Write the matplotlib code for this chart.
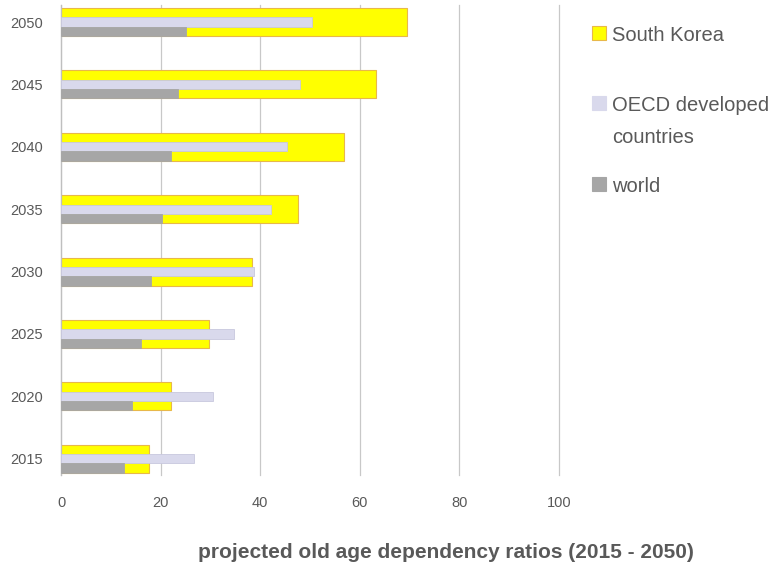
import numpy as np
import matplotlib.pyplot as plt
from matplotlib.patches import Rectangle

# data
years = ['2015', '2020', '2025', '2030', '2035', '2040', '2045', '2050']
south_korea = [17.7, 22.1, 29.7, 38.4, 47.6, 56.9, 63.2, 69.4]
oecd = [26.8, 30.5, 34.7, 38.8, 42.2, 45.3, 47.9, 50.4]
world = [12.6, 14.3, 16.1, 18.1, 20.3, 22.1, 23.4, 25.0]
series_names = ['South Korea', 'OECD developed\ncountries', 'world']

# colours
sk_color = '#FFFF00'
sk_edge = '#E8B84A'
oecd_color = '#D9D9EC'
oecd_edge = '#C8C8DE'
world_color = '#A6A6A6'
text_color = '#595959'

plt.rcParams['font.family'] = ['Liberation Sans', 'DejaVu Sans']

W, H = 773, 573
fig = plt.figure(figsize=(W / 100, H / 100), dpi=100)
ax = fig.add_axes([0.079, 0.171, 0.644, 0.820])

y = np.arange(len(years))
h = 0.15

# gridlines first so bars sit on top
ax.set_axisbelow(True)
ax.xaxis.grid(True, color='#C8C8C8', linewidth=0.9)

# South Korea bar covers the full band, the other two sit inside it
ax.barh(y, south_korea, height=3 * h, color=sk_color, edgecolor=sk_edge, linewidth=0.8, zorder=2)
ax.barh(y, oecd, height=h, color=oecd_color, edgecolor=oecd_edge, linewidth=0.6, zorder=3)
ax.barh(y - h, world, height=h, color=world_color, edgecolor=world_color, linewidth=0.6, zorder=3)

ax.set_xlim(0, 100)
ax.set_ylim(-0.26, 7.27)
ax.set_xticks([0, 20, 40, 60, 80, 100])
ax.set_yticks(y)
ax.set_yticklabels(years)
ax.tick_params(axis='both', length=0, colors=text_color, labelsize=10.5)
ax.tick_params(axis='x', pad=15)
ax.tick_params(axis='y', pad=13)
for gl in ax.get_xgridlines():
    gl.set_clip_on(False)

for side in ['top', 'right', 'bottom']:
    ax.spines[side].set_visible(False)
ax.spines['left'].set_color('#BFBFBF')
ax.spines['left'].set_linewidth(0.9)

# legend drawn by hand to match the uneven spacing of the original
leg_colors = [(sk_color, sk_edge), (oecd_color, oecd_color), (world_color, world_color)]
leg_rows = [33, 103, 184]  # pixel rows of the first text line
for (fc, ec), name, row in zip(leg_colors, series_names, leg_rows):
    fig.patches.append(Rectangle((592 / W, 1 - (row + 7) / H), 14 / W, 14 / H,
                                 transform=fig.transFigure, facecolor=fc,
                                 edgecolor=ec, linewidth=0.8))
    fig.text(612 / W, 1 - (row - 7) / H, name, ha='left', va='top',
             fontsize=14.5, color=text_color, linespacing=1.85)

fig.text(0.577, 0.035, 'projected old age dependency ratios (2015 - 2050)',
         ha='center', va='center', fontsize=15, fontweight='bold', color=text_color)

fig.savefig('out.png', dpi=100)
